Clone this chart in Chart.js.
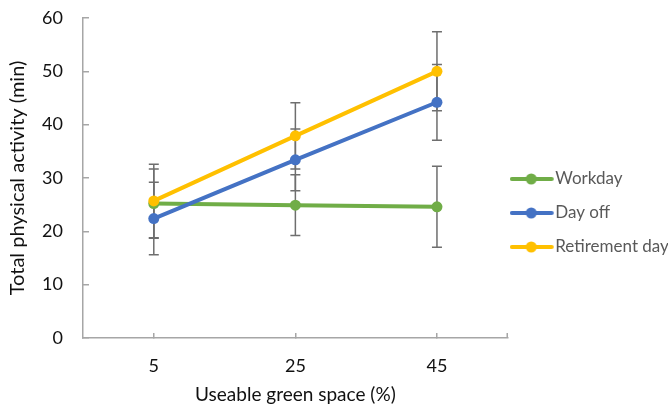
<!DOCTYPE html>
<html>
<head>
<meta charset="utf-8">
<script src="https://cdn.jsdelivr.net/npm/chart.js@4/dist/chart.umd.min.js"></script>
<style>
  html, body { margin: 0; padding: 0; background: #fff; }
  #wrap { width: 668px; height: 408px; }
</style>
</head>
<body>
<div id="wrap"><canvas id="chart"></canvas></div>
<script>
// data
const categories = ['5', '25', '45'];
const workday = [25.2, 24.9, 24.6];
const workdayErr = [6.5, 5.7, 7.6];
const dayOff = [22.4, 33.4, 44.2];
const dayOffErr = [6.8, 5.8, 7.1];
const retirement = [25.7, 37.9, 50.0];
const retirementErr = [6.9, 6.2, 7.4];

const FONT = 'Lato, "Open Sans", sans-serif';
const TEXT = '#111';
const LEGEND_TEXT = '#595959';
const AXIS = '#a6a6a6';

// little line+dot icon for the legend
function legendIcon(color) {
  const c = document.createElement('canvas');
  c.width = 52; c.height = 14;
  const g = c.getContext('2d');
  g.strokeStyle = color; g.lineWidth = 4; g.lineCap = 'round';
  g.beginPath(); g.moveTo(2, 7); g.lineTo(42, 7); g.stroke();
  g.fillStyle = color;
  g.beginPath(); g.arc(21.5, 7, 5.5, 0, Math.PI * 2); g.fill();
  return c;
}

// vertical error bars with caps, drawn under the lines
const errorBars = {
  id: 'errorBars',
  beforeDatasetsDraw(chart) {
    const ctx = chart.ctx, y = chart.scales.y;
    ctx.save();
    ctx.strokeStyle = '#6e6e6e';
    ctx.lineWidth = 1.5;
    chart.data.datasets.forEach((ds, di) => {
      const meta = chart.getDatasetMeta(di);
      meta.data.forEach((pt, i) => {
        const hi = y.getPixelForValue(ds.data[i] + ds.errors[i]);
        const lo = y.getPixelForValue(ds.data[i] - ds.errors[i]);
        ctx.beginPath();
        ctx.moveTo(pt.x, hi); ctx.lineTo(pt.x, lo);
        ctx.moveTo(pt.x - 5, hi); ctx.lineTo(pt.x + 5, hi);
        ctx.moveTo(pt.x - 5, lo); ctx.lineTo(pt.x + 5, lo);
        ctx.stroke();
      });
    });
    // closing tick at the right end of the x axis
    const a = chart.chartArea;
    ctx.strokeStyle = AXIS;
    ctx.beginPath();
    ctx.moveTo(a.right - 0.5, a.bottom); ctx.lineTo(a.right - 0.5, a.bottom - 5);
    ctx.stroke();
    ctx.restore();
  }
};

function series(label, data, errors, color, order) {
  return {
    label, data, errors, order,
    borderColor: color, backgroundColor: color,
    borderWidth: 4, pointRadius: 5.5, pointHoverRadius: 5.5,
    pointBorderWidth: 0, tension: 0, fill: false
  };
}

const datasets = [
  series('Workday', workday, workdayErr, '#70AD47', 3),
  series('Day off', dayOff, dayOffErr, '#4472C4', 2),
  series('Retirement day', retirement, retirementErr, '#FFC000', 1)
];
const icons = datasets.map(d => legendIcon(d.borderColor));

new Chart(document.getElementById('chart'), {
  type: 'line',
  data: { labels: categories, datasets },
  plugins: [errorBars],
  options: {
    responsive: true,
    maintainAspectRatio: false,
    animation: false,
    layout: { padding: { top: 18, right: -9, bottom: 0, left: 0 } },
    plugins: {
      tooltip: { enabled: false },
      legend: {
        position: 'right',
        align: 'center',
        labels: {
          usePointStyle: true,
          pointStyleWidth: 22,
          padding: 17,
          color: LEGEND_TEXT,
          font: { family: FONT, size: 17 },
          sort: (a, b) => a.datasetIndex - b.datasetIndex,
          generateLabels(chart) {
            const items = Chart.defaults.plugins.legend.labels.generateLabels(chart);
            items.forEach(it => { it.pointStyle = icons[it.datasetIndex]; });
            return items;
          }
        }
      }
    },
    scales: {
      x: {
        offset: true,
        afterFit(s) { s.height = 70; s.paddingLeft = 0; s.paddingRight = 0; },
        grid: { drawOnChartArea: false, offset: false, tickLength: -5, color: AXIS, lineWidth: 1.5 },
        border: { color: AXIS, width: 1.5 },
        ticks: { color: TEXT, font: { family: FONT, size: 18 }, padding: 22 },
        title: {
          display: true, text: 'Useable green space (%)', color: TEXT,
          font: { family: FONT, size: 19 }, padding: { top: 9, bottom: 2 }
        }
      },
      y: {
        min: 0, max: 60,
        afterFit(s) { s.width = 83; s.paddingTop = 0; s.paddingBottom = 0; },
        grid: { drawOnChartArea: false, tickLength: -6, color: AXIS, lineWidth: 1.5 },
        border: { color: AXIS, width: 1.5 },
        ticks: { stepSize: 10, color: TEXT, font: { family: FONT, size: 18 }, padding: 26 },
        title: {
          display: true, text: 'Total physical activity (min)', color: TEXT,
          font: { family: FONT, size: 20 }, padding: { top: 6, bottom: 16 }
        }
      }
    }
  }
});
</script>
</body>
</html>
